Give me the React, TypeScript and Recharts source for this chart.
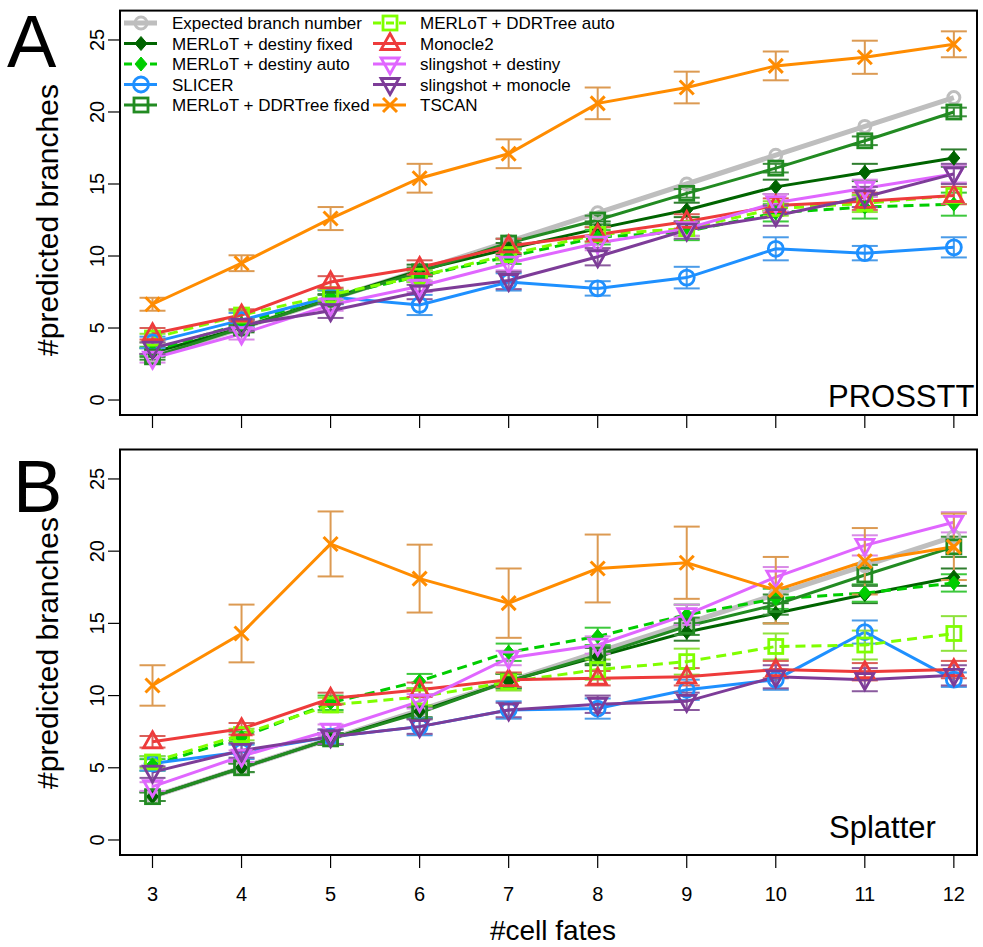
import React from "react";
import { ComposedChart, Line, XAxis, YAxis, ErrorBar } from "recharts";

const FONT = '"Liberation Sans", Arial, Helvetica, sans-serif';

// x categories and axis ticks
const cellFates = [3, 4, 5, 6, 7, 8, 9, 10, 11, 12];
const yTicks = [0, 5, 10, 15, 20, 25];
const expectedBranches = [3, 5, 7, 9, 11, 13, 15, 17, 19, 21];

// PROSSTT panel: mean predicted branches
const destinyFixedA = [3.3, 5.0, 7.05, 9.0, 10.5, 11.9, 13.2, 14.8, 15.8, 16.8];
const destinyAutoA = [3.4, 5.3, 7.2, 8.6, 9.95, 11.3, 11.7, 13.0, 13.4, 13.6];
const slicerA = [4.0, 5.55, 7.15, 6.6, 8.2, 7.75, 8.5, 10.5, 10.2, 10.6];
const ddrFixedA = [3.0, 5.0, 7.0, 8.9, 10.9, 12.5, 14.35, 16.1, 18.0, 20.0];
const ddrAutoA = [4.3, 5.9, 7.3, 8.6, 10.1, 11.5, 11.9, 13.3, 13.65, 14.2];
const monocleA = [4.6, 5.9, 8.2, 9.2, 10.7, 11.5, 12.4, 13.5, 13.8, 14.2];
const slingDestinyA = [2.9, 4.6, 6.6, 7.9, 9.5, 10.9, 11.9, 13.7, 14.7, 15.7];
const slingMonocleA = [3.6, 5.2, 6.2, 7.5, 8.3, 9.95, 11.8, 12.8, 14.1, 15.7];
const tscanA = [6.65, 9.5, 12.6, 15.4, 17.1, 20.6, 21.7, 23.2, 23.8, 24.7];

// PROSSTT panel: error bar half-widths
const destinyFixedErrA = [0.3, 0.3, 0.3, 0.4, 0.4, 0.5, 0.5, 0.5, 0.6, 0.6];
const destinyAutoErrA = [0.3, 0.3, 0.4, 0.4, 0.5, 0.5, 0.6, 0.6, 0.8, 0.8];
const slicerErrA = [0.4, 0.5, 0.5, 0.7, 0.6, 0.5, 0.75, 0.8, 0.5, 0.7];
const ddrFixedErrA = [0.2, 0.2, 0.3, 0.3, 0.3, 0.3, 0.3, 0.3, 0.3, 0.3];
const ddrAutoErrA = [0.3, 0.3, 0.4, 0.4, 0.4, 0.5, 0.5, 0.5, 0.6, 0.6];
const monocleErrA = [0.4, 0.4, 0.4, 0.5, 0.5, 0.5, 0.5, 0.5, 0.6, 0.6];
const slingDestinyErrA = [0.3, 0.4, 0.4, 0.4, 0.5, 0.5, 0.5, 0.6, 0.6, 0.6];
const slingMonocleErrA = [0.4, 0.4, 0.5, 0.5, 0.6, 0.6, 0.6, 0.7, 0.7, 0.7];
const tscanErrA = [0.45, 0.55, 0.8, 1.0, 1.0, 1.1, 1.1, 1.0, 1.15, 0.9];

// Splatter panel: mean predicted branches
const destinyFixedB = [3.0, 5.0, 7.0, 8.9, 11.0, 12.7, 14.4, 15.7, 17.0, 18.2];
const destinyAutoB = [5.2, 7.1, 9.5, 11.0, 13.0, 14.1, 15.6, 16.7, 17.1, 17.8];
const slicerB = [5.3, 6.1, 7.15, 7.85, 9.0, 9.1, 10.4, 11.1, 14.4, 11.1];
const ddrFixedB = [3.0, 5.0, 7.0, 8.8, 11.0, 12.8, 14.8, 16.3, 18.35, 20.3];
const ddrAutoB = [5.4, 7.3, 9.35, 9.9, 10.95, 11.8, 12.35, 13.4, 13.5, 14.3];
const monocleB = [6.8, 7.7, 9.8, 10.4, 11.1, 11.2, 11.3, 11.8, 11.65, 11.8];
const slingDestinyB = [3.7, 5.8, 7.6, 9.6, 12.6, 13.5, 15.6, 18.2, 20.4, 22.0];
const slingMonocleB = [4.7, 6.2, 7.15, 7.85, 9.0, 9.4, 9.6, 11.3, 11.1, 11.4];
const tscanB = [10.7, 14.3, 20.5, 18.1, 16.4, 18.8, 19.2, 17.3, 19.3, 20.3];

// Splatter panel: error bar half-widths
const destinyFixedErrB = [0.3, 0.3, 0.4, 0.4, 0.5, 0.6, 0.6, 0.7, 0.6, 0.6];
const destinyAutoErrB = [0.4, 0.4, 0.5, 0.5, 0.6, 0.6, 0.7, 0.7, 0.6, 0.6];
const slicerErrB = [0.5, 0.5, 0.5, 0.6, 0.6, 0.7, 0.7, 0.7, 0.8, 0.5];
const ddrFixedErrB = [0.3, 0.3, 0.4, 0.4, 0.5, 0.6, 0.6, 0.7, 0.7, 0.7];
const ddrAutoErrB = [0.4, 0.4, 0.5, 0.6, 0.6, 0.7, 0.9, 0.9, 1.0, 1.2];
const monocleErrB = [0.4, 0.4, 0.4, 0.5, 0.5, 0.5, 0.6, 0.6, 0.6, 0.6];
const slingDestinyErrB = [0.3, 0.4, 0.4, 0.5, 0.5, 0.6, 0.7, 0.7, 0.7, 0.7];
const slingMonocleErrB = [0.4, 0.5, 0.5, 0.5, 0.5, 0.6, 0.6, 0.8, 0.8, 0.7];
const tscanErrB = [1.4, 2.0, 2.25, 2.35, 2.4, 2.35, 2.5, 2.3, 2.3, 2.3];

type Shape = "circle" | "diamond" | "square" | "up" | "down" | "cross";

interface SeriesStyle {
  key: string;
  name: string;
  color: string;
  barColor: string;
  shape: Shape;
  lineWidth: number;
  dashed?: boolean;
}

const SERIES: SeriesStyle[] = [
  { key: "expected", name: "Expected branch number", color: "#BEBEBE", barColor: "#BEBEBE", shape: "circle", lineWidth: 5 },
  { key: "destinyFixed", name: "MERLoT + destiny fixed", color: "#006400", barColor: "#2E7D2E", shape: "diamond", lineWidth: 3 },
  { key: "destinyAuto", name: "MERLoT + destiny auto", color: "#00CD00", barColor: "#3CC83C", shape: "diamond", lineWidth: 3, dashed: true },
  { key: "slicer", name: "SLICER", color: "#1E90FF", barColor: "#4A9BE8", shape: "circle", lineWidth: 3 },
  { key: "ddrFixed", name: "MERLoT + DDRTree fixed", color: "#228B22", barColor: "#3C8F3C", shape: "square", lineWidth: 3 },
  { key: "ddrAuto", name: "MERLoT + DDRTree auto", color: "#7FFF00", barColor: "#8EE23C", shape: "square", lineWidth: 3, dashed: true },
  { key: "monocle", name: "Monocle2", color: "#EE3B3B", barColor: "#D9605A", shape: "up", lineWidth: 3 },
  { key: "slingDestiny", name: "slingshot + destiny", color: "#E066FF", barColor: "#D98AE6", shape: "down", lineWidth: 3 },
  { key: "slingMonocle", name: "slingshot + monocle", color: "#7D3C98", barColor: "#8A5A9E", shape: "down", lineWidth: 3 },
  { key: "tscan", name: "TSCAN", color: "#FF8C00", barColor: "#DC9A52", shape: "cross", lineWidth: 3 },
];

const valuesA: Record<string, number[]> = {
  expected: expectedBranches,
  destinyFixed: destinyFixedA,
  destinyAuto: destinyAutoA,
  slicer: slicerA,
  ddrFixed: ddrFixedA,
  ddrAuto: ddrAutoA,
  monocle: monocleA,
  slingDestiny: slingDestinyA,
  slingMonocle: slingMonocleA,
  tscan: tscanA,
};
const errorsA: Record<string, number[]> = {
  destinyFixed: destinyFixedErrA,
  destinyAuto: destinyAutoErrA,
  slicer: slicerErrA,
  ddrFixed: ddrFixedErrA,
  ddrAuto: ddrAutoErrA,
  monocle: monocleErrA,
  slingDestiny: slingDestinyErrA,
  slingMonocle: slingMonocleErrA,
  tscan: tscanErrA,
};
const valuesB: Record<string, number[]> = {
  expected: expectedBranches,
  destinyFixed: destinyFixedB,
  destinyAuto: destinyAutoB,
  slicer: slicerB,
  ddrFixed: ddrFixedB,
  ddrAuto: ddrAutoB,
  monocle: monocleB,
  slingDestiny: slingDestinyB,
  slingMonocle: slingMonocleB,
  tscan: tscanB,
};
const errorsB: Record<string, number[]> = {
  destinyFixed: destinyFixedErrB,
  destinyAuto: destinyAutoErrB,
  slicer: slicerErrB,
  ddrFixed: ddrFixedErrB,
  ddrAuto: ddrAutoErrB,
  monocle: monocleErrB,
  slingDestiny: slingDestinyErrB,
  slingMonocle: slingMonocleErrB,
  tscan: tscanErrB,
};

const buildRows = (
  values: Record<string, number[]>,
  errors: Record<string, number[]>
) =>
  cellFates.map((fates, i) => {
    const row: Record<string, number> = { fates };
    SERIES.forEach((s) => {
      row[s.key] = values[s.key][i];
      if (errors[s.key]) row[`${s.key}Err`] = errors[s.key][i];
    });
    return row;
  });

const rowsA = buildRows(valuesA, errorsA);
const rowsB = buildRows(valuesB, errorsB);

// plot geometry (R style: 4% padding around the data range)
const WIDTH = 983;
const PLOT_LEFT = 120;
const PLOT_RIGHT = 977;
const X_DOMAIN: [number, number] = [2.635, 12.26];
const Y_DOMAIN: [number, number] = [-1.04, 27.04];

const Marker = ({
  shape,
  color,
  cx,
  cy,
  big = false,
}: {
  shape: Shape;
  color: string;
  cx: number;
  cy: number;
  big?: boolean;
}) => {
  switch (shape) {
    case "circle":
      return (
        <circle cx={cx} cy={cy} r={big ? 7.5 : 6} fill="none" stroke={color} strokeWidth={big ? 2.8 : 3} />
      );
    case "diamond":
      return (
        <polygon
          points={`${cx},${cy - 7} ${cx + 6},${cy} ${cx},${cy + 7} ${cx - 6},${cy}`}
          fill={color}
          stroke={color}
          strokeWidth={1}
        />
      );
    case "square":
      return (
        <rect x={cx - 7} y={cy - 7} width={14} height={14} fill="none" stroke={color} strokeWidth={2.8} />
      );
    case "up":
      return (
        <polygon
          points={`${cx},${cy - 10} ${cx + 9},${cy + 6} ${cx - 9},${cy + 6}`}
          fill="none"
          stroke={color}
          strokeWidth={2.8}
          strokeLinejoin="miter"
        />
      );
    case "down":
      return (
        <polygon
          points={`${cx},${cy + 10} ${cx + 9},${cy - 6} ${cx - 9},${cy - 6}`}
          fill="none"
          stroke={color}
          strokeWidth={2.8}
          strokeLinejoin="miter"
        />
      );
    case "cross":
      return (
        <g stroke={color} strokeWidth={3}>
          <line x1={cx - 7} y1={cy - 7} x2={cx + 7} y2={cy + 7} />
          <line x1={cx - 7} y1={cy + 7} x2={cx + 7} y2={cy - 7} />
        </g>
      );
  }
  return null;
};

const YTick = ({ x, y, payload }: any) => (
  <text
    x={x}
    y={y}
    transform={`rotate(-90 ${x} ${y})`}
    textAnchor="middle"
    fontSize={20}
    fontFamily={FONT}
    fill="#000"
  >
    {payload.value}
  </text>
);

const XTick = ({ x, y, payload }: any) => (
  <text x={x} y={y + 33} textAnchor="middle" fontSize={20} fontFamily={FONT} fill="#000">
    {payload.value}
  </text>
);

const NoTick = () => <g />;

interface PanelProps {
  rows: Record<string, number>[];
  top: number;
  height: number;
  plotTop: number;
  xAxisHeight: number;
  showXLabels: boolean;
}

const Panel = ({ rows, top, height, plotTop, xAxisHeight, showXLabels }: PanelProps) => (
  <div style={{ position: "absolute", left: 0, top, width: WIDTH, height }}>
    <ComposedChart
      width={WIDTH}
      height={height}
      data={rows}
      margin={{ top: plotTop, right: WIDTH - PLOT_RIGHT, bottom: 0, left: 0 }}
    >
      <XAxis
        dataKey="fates"
        type="number"
        domain={X_DOMAIN}
        ticks={cellFates}
        allowDataOverflow
        axisLine={false}
        tickLine={{ stroke: "#000", strokeWidth: 1.2 }}
        tickSize={13}
        tickMargin={0}
        height={xAxisHeight}
        tick={showXLabels ? XTick : NoTick}
      />
      <YAxis
        type="number"
        domain={Y_DOMAIN}
        ticks={yTicks}
        allowDataOverflow
        axisLine={false}
        tickLine={{ stroke: "#000", strokeWidth: 1.2 }}
        tickSize={12}
        tickMargin={4}
        width={PLOT_LEFT}
        tick={YTick}
      />
      {SERIES.map((s) => (
        <Line
          key={s.key}
          dataKey={s.key}
          name={s.name}
          stroke={s.color}
          strokeWidth={s.lineWidth}
          strokeDasharray={s.dashed ? "10 6" : undefined}
          isAnimationActive={false}
          activeDot={false}
          dot={(p: any) =>
            p.cx == null || p.cy == null ? (
              <g key={`${s.key}-${p.index}`} />
            ) : (
              <Marker
                key={`${s.key}-${p.index}`}
                shape={s.shape}
                color={s.color}
                cx={p.cx}
                cy={p.cy}
                big={s.key !== "expected"}
              />
            )
          }
        >
          {s.key !== "expected" && (
            <ErrorBar
              dataKey={`${s.key}Err`}
              direction="y"
              width={13}
              stroke={s.barColor}
              strokeWidth={2}
              isAnimationActive={false}
            />
          )}
        </Line>
      ))}
    </ComposedChart>
  </div>
);

const LEGEND_COLUMNS = [SERIES.slice(0, 5), SERIES.slice(5)];
const LEGEND_X = [
  { line: 124, text: 172 },
  { line: 373, text: 420 },
];

const Legend = () => (
  <g>
    {LEGEND_COLUMNS.map((col, c) =>
      col.map((s, r) => {
        const cy = 23 + r * 20.5;
        const lx = LEGEND_X[c].line;
        return (
          <g key={s.key}>
            <line
              x1={lx}
              y1={cy}
              x2={lx + 33}
              y2={cy}
              stroke={s.color}
              strokeWidth={s.lineWidth}
              strokeDasharray={s.dashed ? "8 5" : undefined}
            />
            <Marker shape={s.shape} color={s.color} cx={lx + 17} cy={cy} big={s.key !== "expected"} />
            <text x={LEGEND_X[c].text} y={cy + 6} fontSize={17} fontFamily={FONT} fill="#000">
              {s.name}
            </text>
          </g>
        );
      })
    )}
  </g>
);

export default function App() {
  const plotW = PLOT_RIGHT - PLOT_LEFT;
  return (
    <div
      style={{
        position: "absolute",
        left: 0,
        top: 0,
        width: WIDTH,
        height: 947,
        background: "#fff",
        fontFamily: FONT,
      }}
    >
      <Panel rows={rowsA} top={0} height={440} plotTop={10.6} xAxisHeight={25} showXLabels={false} />
      <Panel rows={rowsB} top={440} height={507} plotTop={9.5} xAxisHeight={92} showXLabels />
      <svg
        width={WIDTH}
        height={947}
        style={{ position: "absolute", left: 0, top: 0, pointerEvents: "none" }}
      >
        <rect x={PLOT_LEFT} y={10.6} width={plotW} height={404.4} fill="none" stroke="#000" strokeWidth={2} />
        <rect x={PLOT_LEFT} y={449.5} width={plotW} height={405.5} fill="none" stroke="#000" strokeWidth={2} />
        <Legend />
        <text x={7} y={67} fontSize={74} fontFamily={FONT} fill="#000">A</text>
        <text x={13} y={512} fontSize={74} fontFamily={FONT} fill="#000">B</text>
        <text
          x={58}
          y={220}
          transform="rotate(-90 58 220)"
          textAnchor="middle"
          fontSize={30}
          fontFamily={FONT}
          fill="#000"
        >
          #predicted branches
        </text>
        <text
          x={58}
          y={653}
          transform="rotate(-90 58 653)"
          textAnchor="middle"
          fontSize={30}
          fontFamily={FONT}
          fill="#000"
        >
          #predicted branches
        </text>
        <text x={553} y={940} textAnchor="middle" fontSize={28} fontFamily={FONT} fill="#000">
          #cell fates
        </text>
        <text x={828} y={407} fontSize={31} fontFamily={FONT} fill="#000">PROSSTT</text>
        <text x={829} y={838} fontSize={31} fontFamily={FONT} fill="#000">Splatter</text>
      </svg>
    </div>
  );
}
